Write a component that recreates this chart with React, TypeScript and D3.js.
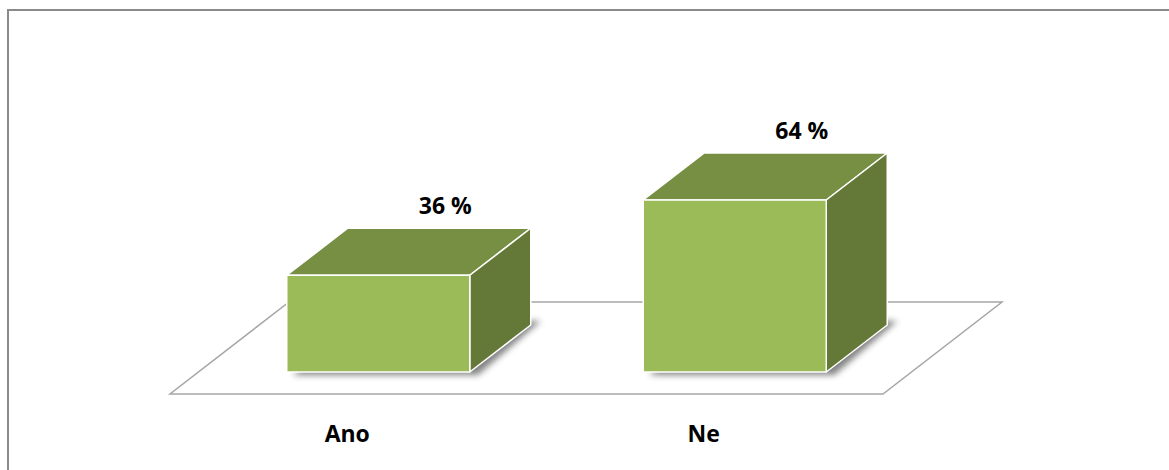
import React from "react";
import * as d3 from "d3";

const categories: string[] = ["Ano", "Ne"];
const values: number[] = [36, 64];
const valueLabels: string[] = ["36 %", "64 %"];

const W = 1169;
const H = 470;

export default function App() {
  // floor geometry
  const floorFrontY = 394;
  const floorLeft = 170;
  const floorRight = 883;
  const floorDX = 119;
  const floorDY = -92;

  const x = d3.scaleBand<string>().domain(categories).range([floorLeft, floorRight]).padding(0);
  const baseY = 372;
  const y = d3.scaleLinear().domain([0, 64]).range([baseY, 200]);

  const boxW = 183;
  const frontShiftX = 30; // depth position of box front
  const bdx = 61;
  const bdy = -47;

  const font = "'Open Sans', 'DejaVu Sans', sans-serif";

  const floor = [
    [floorLeft, floorFrontY],
    [floorRight, floorFrontY],
    [floorRight + floorDX, floorFrontY + floorDY],
    [floorLeft + floorDX, floorFrontY + floorDY],
  ];
  const pts = (p: number[][]) => p.map((q) => q.join(",")).join(" ");

  return (
    <svg width={W} height={H} style={{ position: "absolute", left: 0, top: 0, background: "#fff" }}>
      <defs>
        <filter id="blur" x="-20%" y="-20%" width="140%" height="140%">
          <feGaussianBlur stdDeviation="3" />
        </filter>
      </defs>
      <path d={`M8,${H} V10 H${W}`} fill="none" stroke="#8a8a8a" strokeWidth={2} />
      <polygon points={pts(floor)} fill="#fff" stroke="#a6a6a6" strokeWidth={1.5} />
      {categories.map((c, i) => {
        const cx = (x(c) as number) + x.bandwidth() / 2;
        const x0 = cx + frontShiftX - boxW / 2;
        const x1 = x0 + boxW;
        const yt = y(values[i]);
        const yb = baseY;
        const shadow = [
          [x0 + 6, yb + 3],
          [x1 + 8, yb + 3],
          [x1 + bdx + 10, yb + bdy - 4],
          [x0 + bdx + 6, yb + bdy - 4],
        ];
        const front = [[x0, yt], [x1, yt], [x1, yb], [x0, yb]];
        const top = [[x0, yt], [x0 + bdx, yt + bdy], [x1 + bdx, yt + bdy], [x1, yt]];
        const side = [[x1, yt], [x1 + bdx, yt + bdy], [x1 + bdx, yb + bdy], [x1, yb]];
        return (
          <g key={c}>
            <polygon points={pts(shadow)} fill="#404040" opacity={0.65} filter="url(#blur)" />
            <polygon points={pts(top)} fill="#778F43" stroke="#fff" strokeWidth={1.5} strokeLinejoin="round" />
            <polygon points={pts(side)} fill="#647837" stroke="#fff" strokeWidth={1.5} strokeLinejoin="round" />
            <polygon points={pts(front)} fill="#9BBB59" stroke="#fff" strokeWidth={1.5} strokeLinejoin="round" />
            <text
              x={x0 + boxW / 2 + bdx + 6}
              y={yt - 61}
              textAnchor="middle"
              fontFamily={font}
              fontWeight={700}
              fontSize={23}
              fill="#000"
            >
              {valueLabels[i]}
            </text>
            <text
              x={cx - 1}
              y={442}
              textAnchor="middle"
              fontFamily={font}
              fontWeight={700}
              fontSize={23}
              fill="#000"
            >
              {c}
            </text>
          </g>
        );
      })}
    </svg>
  );
}
